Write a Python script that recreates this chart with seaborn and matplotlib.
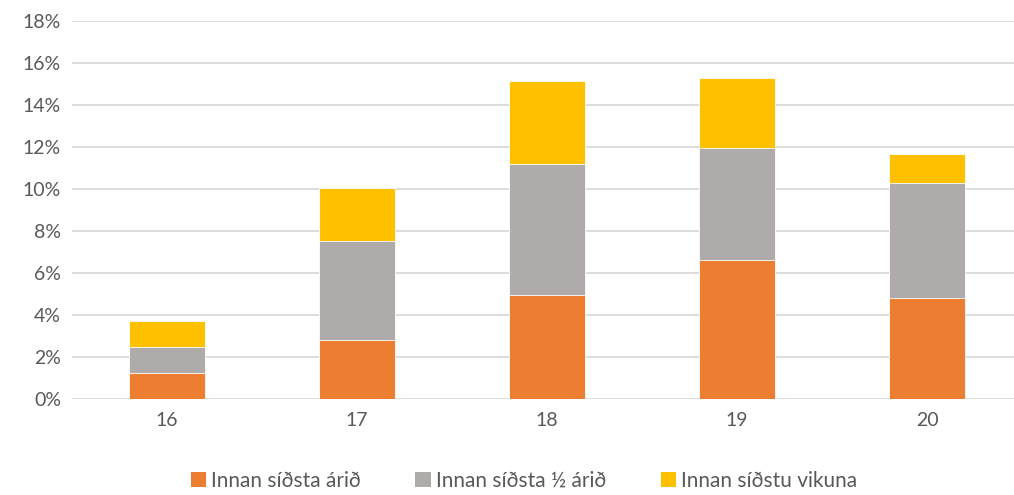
import matplotlib

matplotlib.use("Agg")
import matplotlib.pyplot as plt
import numpy as np
import pandas as pd
import seaborn as sns
from matplotlib.patches import Patch
from matplotlib.ticker import FuncFormatter

ages = ["16", "17", "18", "19", "20"]
series_names = ["Innan síðsta árið", "Innan síðsta ½ árið", "Innan síðstu vikuna"]
last_year = [1.22, 2.83, 4.97, 6.60, 4.83]
last_half_year = [1.25, 4.68, 6.23, 5.35, 5.46]
last_week = [1.24, 2.52, 3.93, 3.32, 1.38]
colors = ["#ED7D31", "#AFABAB", "#FFC000"]

sns.set_theme(style="white")
plt.rcParams["font.family"] = ["Lato", "DejaVu Sans"]

df = pd.DataFrame(
    {"age": ages, "s1": last_year, "s2": last_half_year, "s3": last_week}
)
cum1 = np.array(last_year)
cum2 = cum1 + np.array(last_half_year)
cum3 = cum2 + np.array(last_week)

fig = plt.figure(figsize=(10.14, 4.95), dpi=100)
ax = fig.add_axes([72 / 1014, 1 - 399 / 495, 950 / 1014, 378 / 495])

# stacked bars: draw cumulative totals from the top segment down
for cum, col in zip([cum3, cum2, cum1], colors[::-1]):
    sns.barplot(x=df["age"], y=cum, color=col, width=0.4, ax=ax,
                saturation=1, edgecolor="white", linewidth=0.6)

ax.set_ylim(0, 18)
ax.set_yticks(np.arange(0, 19, 2))
ax.yaxis.set_major_formatter(FuncFormatter(lambda v, _: f"{v:.0f}%"))
ax.grid(axis="y", color="#D9D9D9", linewidth=1.3)
ax.set_axisbelow(True)
for s in ax.spines.values():
    s.set_visible(False)
ax.tick_params(axis="both", length=0, labelsize=14, colors="#595959")
ax.tick_params(axis="y", pad=8)
ax.tick_params(axis="x", pad=9)
ax.set_xlabel("")
ax.set_ylabel("")

handles = [Patch(facecolor=c, edgecolor="none") for c in colors]
fig.legend(handles, series_names, loc="center", bbox_to_anchor=(524 / 1014, 1 - 481 / 495),
           ncol=3, frameon=False, fontsize=15, labelcolor="#595959",
           handlelength=0.75, handleheight=0.75, handletextpad=0.25, columnspacing=2.6)

fig.savefig("out.png", dpi=100)
